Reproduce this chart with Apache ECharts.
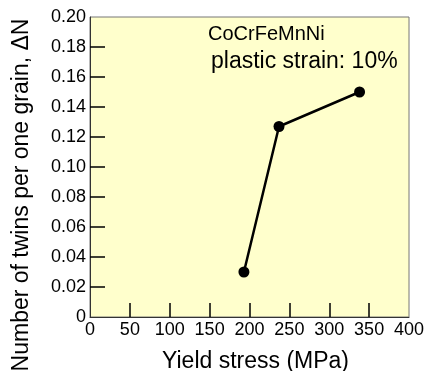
<!DOCTYPE html>
<html>
<head>
<meta charset="utf-8">
<script src="https://cdn.jsdelivr.net/npm/echarts@6/dist/echarts.min.js"></script>
<style>
  html, body { margin: 0; padding: 0; background: #fff; }
  #chart { width: 426px; height: 371px; }
</style>
</head>
<body>
<div id="chart"></div>
<script>
// data
let yieldStress = [193, 237, 338];
let twinsPerGrain = [0.030, 0.127, 0.150];
let xTicks = [0, 50, 100, 150, 200, 250, 300, 350, 400];
let yTicks = [0, 0.02, 0.04, 0.06, 0.08, 0.10, 0.12, 0.14, 0.16, 0.18, 0.20];

let font = '"Liberation Sans", Arial, sans-serif';

function yLabel(v) {
  if (v === 0) return '0';
  return v.toFixed(2);
}

let option = {
  animation: false,
  grid: {
    left: 90,
    right: 17,
    top: 17,
    bottom: 54,
    outerBoundsMode: 'none',
    show: true,
    backgroundColor: '#ffffcc',
    borderColor: '#777',
    borderWidth: 1
  },
  graphic: [
    {
      type: 'text',
      left: 208,
      top: 24,
      style: { text: 'CoCrFeMnNi', font: '20px ' + font, fill: '#000' }
    },
    {
      type: 'text',
      left: 211,
      top: 50,
      style: { text: 'plastic strain: 10%', font: '23px ' + font, fill: '#000' }
    }
  ],
  xAxis: {
    type: 'value',
    min: xTicks[0],
    max: xTicks[xTicks.length - 1],
    interval: 50,
    name: 'Yield stress (MPa)',
    nameLocation: 'middle',
    nameGap: 33,
    nameTextStyle: { fontFamily: font, fontSize: 23, color: '#000', padding: [0, 0, 0, 12] },
    axisLine: { show: true, lineStyle: { color: '#333', width: 1 } },
    axisTick: {
      show: true, inside: true, length: 14,
      lineStyle: { color: '#000', width: 1.5 },
      customValues: xTicks.slice(1, -1)
    },
    axisLabel: {
      fontFamily: font, fontSize: 18, color: '#000', margin: 4,
      customValues: xTicks
    },
    splitLine: { show: false }
  },
  yAxis: {
    type: 'value',
    min: yTicks[0],
    max: yTicks[yTicks.length - 1],
    interval: 0.02,
    name: 'Number of twins per one grain, \u0394N',
    nameLocation: 'middle',
    nameGap: 57,
    nameTextStyle: { fontFamily: font, fontSize: 23, color: '#000', padding: [0, 56, 0, 0] },
    axisLine: { show: true, lineStyle: { color: '#333', width: 1 } },
    axisTick: {
      show: true, inside: true, length: 15,
      lineStyle: { color: '#000', width: 1.5 },
      customValues: yTicks.slice(1, -1)
    },
    axisLabel: {
      fontFamily: font, fontSize: 18, color: '#000', margin: 4,
      customValues: yTicks,
      formatter: yLabel
    },
    splitLine: { show: false }
  },
  series: [
    {
      type: 'line',
      data: yieldStress.map((x, i) => [x, twinsPerGrain[i]]),
      symbol: 'circle',
      symbolSize: 11,
      itemStyle: { color: '#000' },
      lineStyle: { color: '#000', width: 2.5 }
    }
  ]
};

let chart = echarts.init(document.getElementById('chart'));
chart.setOption(option);
</script>
</body>
</html>
